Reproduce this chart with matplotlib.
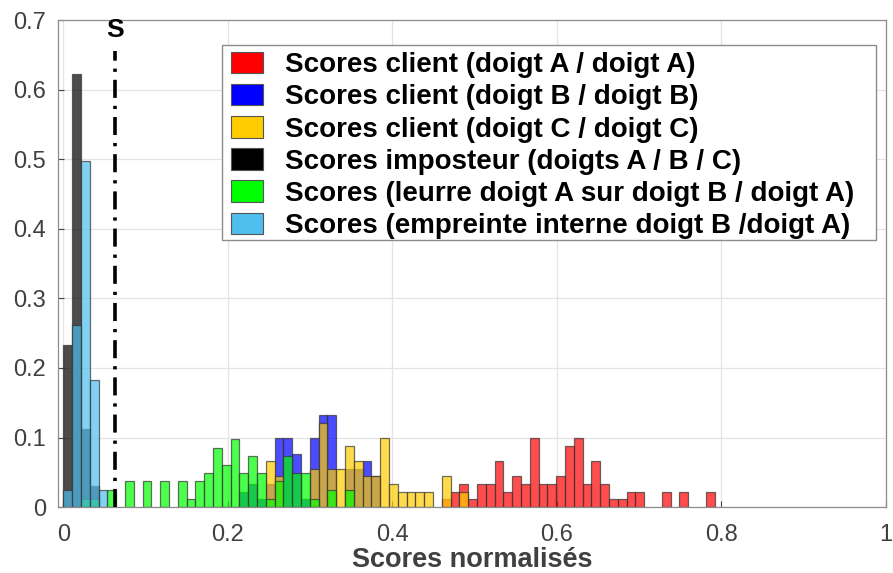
import matplotlib
matplotlib.use("Agg")
import matplotlib.pyplot as plt
from matplotlib.patches import Patch, Rectangle
import numpy as np

plt.rcParams['font.family'] = ['Liberation Sans', 'DejaVu Sans']

# ---- data (normalised histogram values, probability per bin) ----
bin_width = 0.0107          # shared bin width
# first-bin index on the shared grid (grid starts at 0) and heights per series
red_start = 43
red_vals = [0.011, 0.022, 0.033, 0.011, 0.033, 0.033, 0.066, 0.022, 0.044, 0.033,
            0.099, 0.033, 0.033, 0.044, 0.088, 0.099, 0.033, 0.066, 0.033, 0.011,
            0.011, 0.022, 0.022, 0.0, 0.0, 0.022, 0.0, 0.022, 0.0, 0.0, 0.022]
blue_start = 20
blue_vals = [0.022, 0.033, 0.011, 0.033, 0.099, 0.099, 0.077, 0.011, 0.099, 0.132,
             0.132, 0.0, 0.055, 0.055, 0.066, 0.044]
yellow_start = 23
yellow_vals = [0.066, 0.044, 0.0, 0.0, 0.0, 0.055, 0.121, 0.055, 0.055, 0.088,
               0.066, 0.044, 0.044, 0.099, 0.033, 0.022, 0.022, 0.022, 0.022, 0.0,
               0.044, 0.0, 0.022]
black_start = 0
black_vals = [0.233, 0.623, 0.112, 0.03]
green_start = 2
green_vals = [0.012, 0.012, 0.0, 0.024, 0.0, 0.037, 0.0, 0.037, 0.0, 0.037,
              0.0, 0.037, 0.012, 0.037, 0.049, 0.085, 0.061, 0.098, 0.049, 0.073,
              0.049, 0.012, 0.037, 0.073, 0.049, 0.049, 0.012, 0.0, 0.024, 0.0, 0.024]
cyan_start = 0
cyan_vals = [0.024, 0.262, 0.497, 0.183, 0.024]

threshold = 0.063

labels = ["Scores client (doigt A / doigt A)",
          "Scores client (doigt B / doigt B)",
          "Scores client (doigt C / doigt C)",
          "Scores imposteur (doigts A / B / C)",
          "Scores (leurre doigt A sur doigt B / doigt A)",
          "Scores (empreinte interne doigt B /doigt A)"]
colors = ["#FF0000", "#0000FF", "#FFCC00", "#000000", "#00FF00", "#4DBEEE"]
xticks = [0, 0.2, 0.4, 0.6, 0.8, 1]
xtick_labels = ["0", "0.2", "0.4", "0.6", "0.8", "1"]
yticks = [0, 0.1, 0.2, 0.3, 0.4, 0.5, 0.6, 0.7]
ytick_labels = ["0", "0.1", "0.2", "0.3", "0.4", "0.5", "0.6", "0.7"]

series = [(red_start, red_vals), (blue_start, blue_vals), (yellow_start, yellow_vals),
          (black_start, black_vals), (green_start, green_vals), (cyan_start, cyan_vals)]

fig = plt.figure(figsize=(8.93, 5.73), dpi=100)
ax = fig.add_axes([0.0655, 0.115, 0.9265, 0.85])

edge_col = (0.2, 0.2, 0.2)
for (start, vals), col in zip(series, colors):
    vals = np.array(vals)
    lefts = (start + np.arange(len(vals))) * bin_width
    mask = vals > 0
    ax.bar(lefts[mask], vals[mask], width=bin_width, align='edge',
           color=col, alpha=0.7, edgecolor=edge_col, linewidth=0.9, zorder=2)

ax.plot([threshold, threshold], [0, 0.655], color='black', lw=2.6,
        linestyle=(0, (5, 2.2, 0.9, 2.2)), zorder=3)
ax.text(threshold, 0.703, "S", ha='center', va='top', fontsize=19,
        fontweight='bold', color='black', zorder=4)

ax.set_xlim(-0.006, 1)
ax.set_ylim(0, 0.7)
ax.set_xticks(xticks)
ax.set_xticklabels(xtick_labels)
ax.set_yticks(yticks)
ax.set_yticklabels(ytick_labels)
ax.tick_params(direction='in', labelsize=17, colors='#404040', length=4, width=0.8,
               top=False, right=False)
ax.tick_params(axis='y', pad=9)
ax.tick_params(axis='x', pad=12)
ax.grid(True, color='#e4e4e4', linewidth=0.9, zorder=0)
ax.set_axisbelow(True)
for sp in ax.spines.values():
    sp.set_color('#8c8c8c')
    sp.set_linewidth(0.9)

ax.set_xlabel("Scores normalisés", fontsize=19.5, fontweight='bold', color='#404040',
              labelpad=1)

# legend box (white, gray border) drawn behind the legend entries
box = Rectangle((0.2486, 0.5812), 0.7324, 0.3403, transform=fig.transFigure,
                facecolor='white', edgecolor='#8c8c8c', linewidth=1.0, zorder=4.5)
ax.add_patch(box)

handles = [Patch(facecolor=c, edgecolor='#555555', linewidth=0.8) for c in colors]
leg = ax.legend(handles, labels, loc='upper left', bbox_to_anchor=(0.2085, 0.9343),
                prop={'weight': 'bold', 'size': 20}, frameon=False,
                handlelength=1.15, handleheight=0.8,
                labelspacing=0.21, handletextpad=0.8, borderpad=0, borderaxespad=0)
leg.set_zorder(5)

fig.savefig("out.png", dpi=100)
